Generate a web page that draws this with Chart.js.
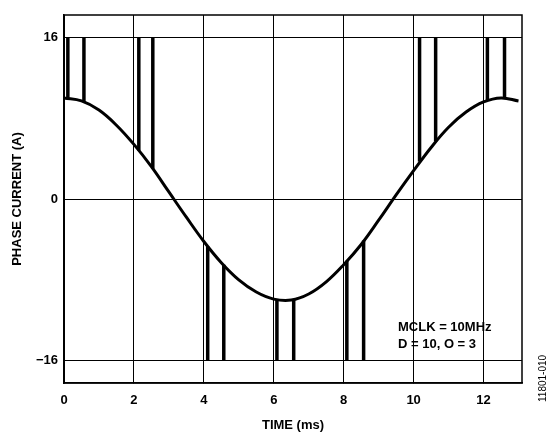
<!DOCTYPE html>
<html>
<head>
<script src="https://cdn.jsdelivr.net/npm/chart.js@4"></script>
<style>
body { margin: 0; background: #fff; }
#wrap { width: 553px; height: 437px; }
</style>
</head>
<body>
<div id="wrap"><canvas id="phase"></canvas></div>
<script>
const timeMs = [0, 0.5, 1, 1.5, 2, 2.5, 3, 3.5, 4, 4.5, 5, 5.5, 6, 6.5, 7, 7.5, 8, 8.5, 9, 9.5, 10, 10.5, 11, 11.5, 12, 12.5, 13];
const currentA = [10, 9.7, 8.8, 7.3, 5.4, 3.2, 0.7, -1.8, -4.2, -6.3, -8.0, -9.2, -9.9, -10, -9.4, -8.2, -6.5, -4.5, -2.1, 0.4, 2.8, 5.1, 7.1, 8.6, 9.6, 10, 9.7];
const pulseTimes = [0.11, 0.57, 2.14, 2.54, 4.11, 4.57, 6.09, 6.57, 8.09, 8.57, 10.17, 10.63, 12.11, 12.6];
const pulseBase = [10, 9.6, 4.8, 3.0, -4.7, -6.5, -10, -9.9, -6.1, -4.1, 3.7, 5.7, 9.7, 10];
const pulseTop = [16, 16, 16, 16, -16, -16, -16, -16, -16, -16, 16, 16, 16, 16];
const xTicks = [0, 2, 4, 6, 8, 10, 12];
const yTicks = [-16, 0, 16];
const noteLines = ['MCLK = 10MHz', 'D = 10, O = 3'];

const datasets = [{
	data: timeMs.map((t, i) => ({ x: t, y: currentA[i] })),
	borderColor: '#000',
	borderWidth: 3,
	pointRadius: 0,
	tension: 0.4,
}];
pulseTimes.forEach((t, i) => {
	datasets.push({
		data: [{ x: t, y: pulseBase[i] }, { x: t, y: pulseTop[i] }],
		borderColor: '#000',
		borderWidth: 3.5,
		pointRadius: 0,
	});
});

const notes = {
	id: 'notes',
	afterDraw(chart) {
		const c = chart.ctx;
		const a = chart.chartArea;
		c.save();
		c.strokeStyle = '#000';
		c.lineWidth = 1.5;
		c.strokeRect(a.left, a.top, a.right - a.left, a.bottom - a.top);
		c.fillStyle = '#000';
		c.font = 'bold 13px "Liberation Sans", Arial, sans-serif';
		c.fillText(noteLines[0], 398, 331);
		c.fillText(noteLines[1], 398, 348);
		c.font = '10px "Liberation Sans", Arial, sans-serif';
		c.translate(546, 402);
		c.rotate(-Math.PI / 2);
		c.fillText('11801-010', 0, 0);
		c.restore();
	}
};

const fontBold = { family: '"Liberation Sans", Arial, sans-serif', size: 13, weight: 'bold' };

new Chart(document.getElementById('phase'), {
type: 'line',
data: { datasets },
plugins: [notes],
options: {
	responsive: true,
	maintainAspectRatio: false,
	animation: false,
	layout: { padding: { top: 15, right: 31, left: 6 } },
	plugins: { legend: { display: false }, tooltip: { enabled: false } },
	scales: {
		x: {
			type: 'linear',
			min: 0,
			max: 13.1,
			afterBuildTicks(s) { s.ticks = xTicks.map(v => ({ value: v })); },
			ticks: { color: '#000', font: fontBold, padding: 10 },
			grid: { color: '#000', lineWidth: 1, tickLength: 0 },
			border: { color: '#000', width: 1.5 },
			title: { display: true, text: 'TIME (ms)', color: '#000', font: fontBold, padding: { top: 0 } },
			afterFit(s) { s.height = 54; }
		},
		y: {
			min: -18.2,
			max: 18.2,
			afterBuildTicks(s) { s.ticks = yTicks.map(v => ({ value: v })); },
			ticks: { color: '#000', font: fontBold, padding: 6, callback: v => v < 0 ? '\u2212' + Math.abs(v) : v },
			grid: { color: '#000', lineWidth: 1, tickLength: 0 },
			border: { color: '#000', width: 1.5 },
			title: { display: true, text: 'PHASE CURRENT (A)', color: '#000', font: fontBold, padding: { bottom: 2 } },
			afterFit(s) { s.width = 58; }
		}
	}
}
});
</script>
</body>
</html>
